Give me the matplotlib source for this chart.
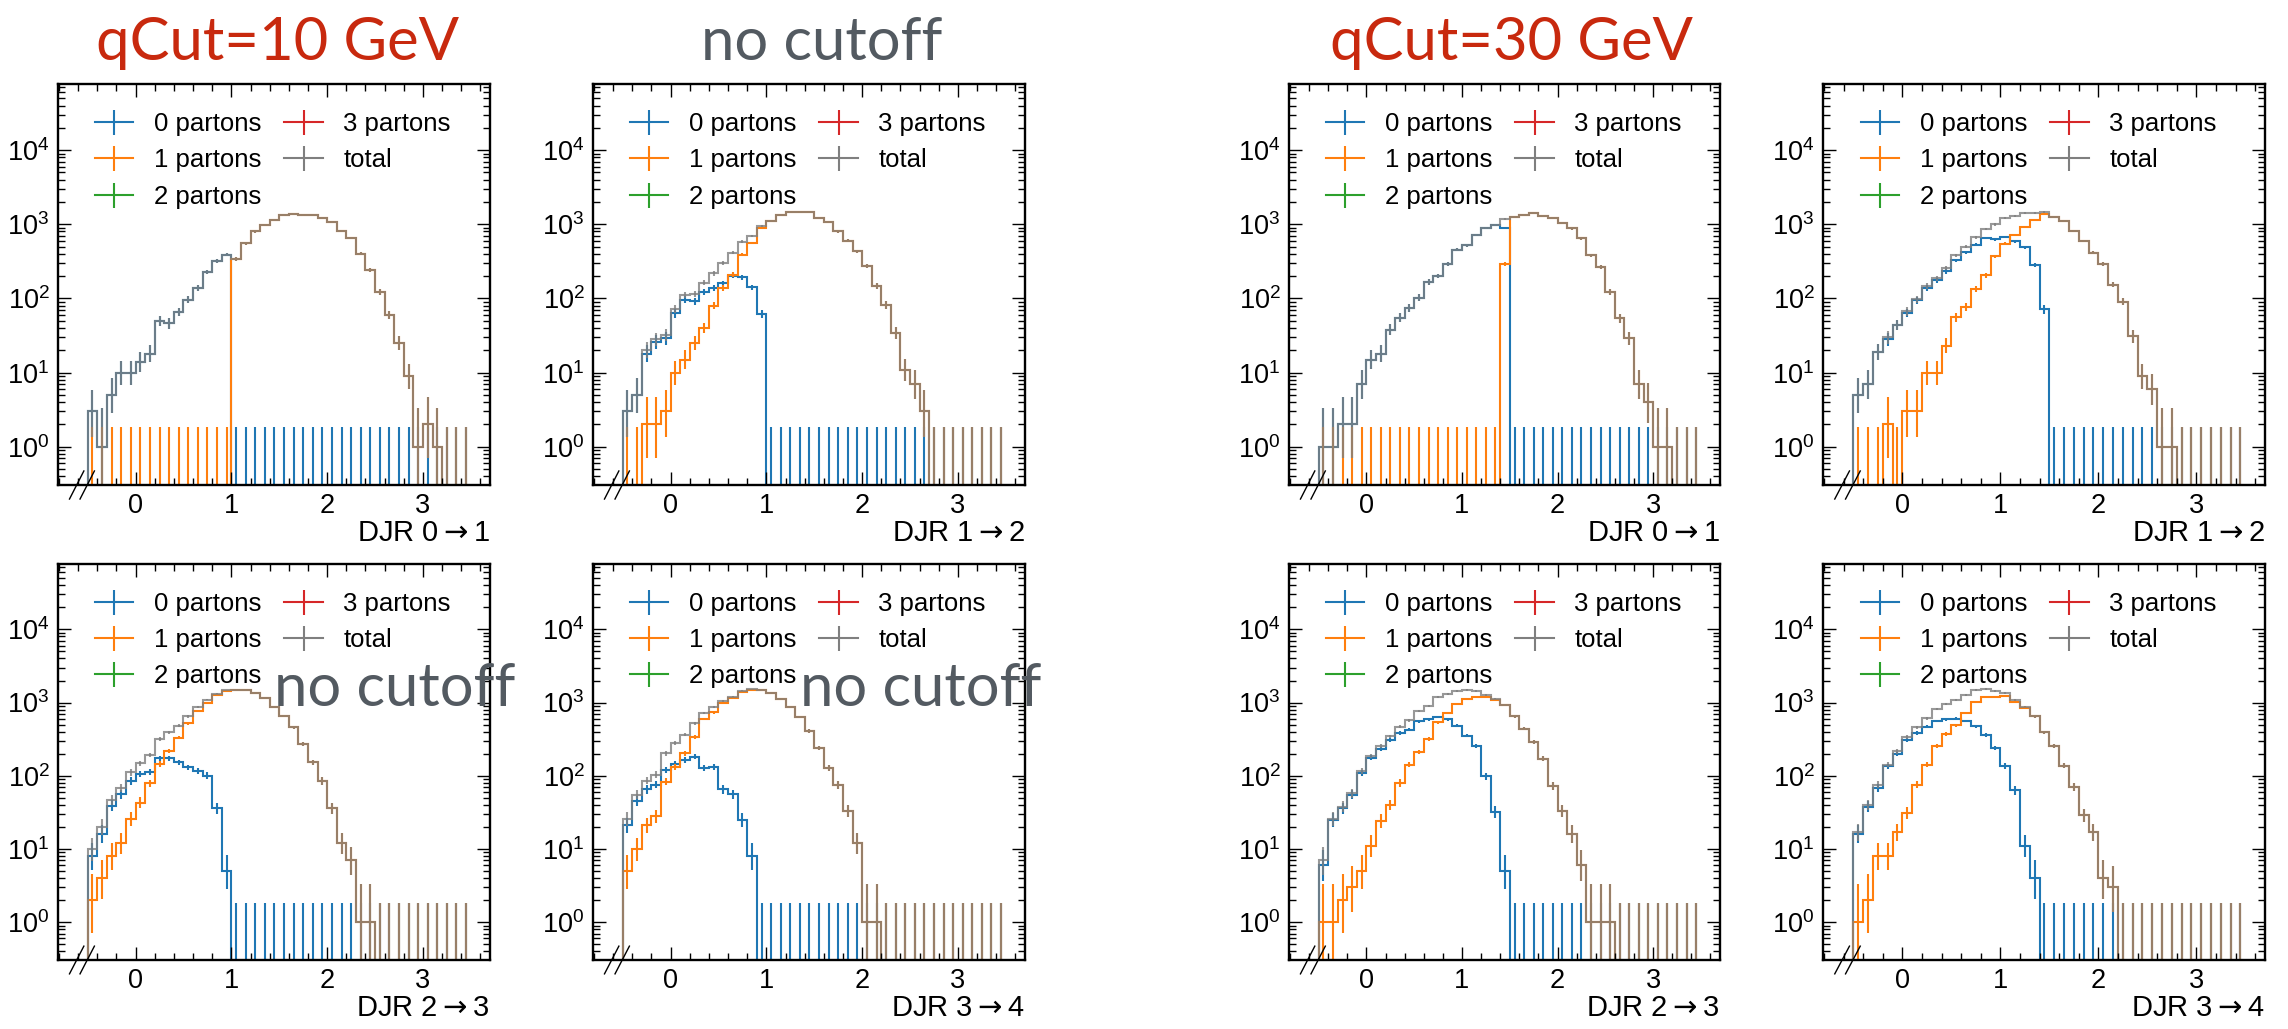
"""DJR distributions for MLM matching, split by parton multiplicity."""

import numpy as np
import matplotlib
matplotlib.use("Agg")
import matplotlib.pyplot as plt
import matplotlib.transforms as mtransforms
from matplotlib.lines import Line2D
from matplotlib.ticker import LogLocator, MultipleLocator, NullFormatter

plt.rcParams["font.family"] = ["Liberation Sans", "DejaVu Sans"]
plt.rcParams["mathtext.fontset"] = "dejavusans"

# log10(DJR) binning, 40 bins of 0.1
edges = np.round(np.linspace(-0.5, 3.5, 41), 2)

labels = ["0 partons", "1 partons", "2 partons", "3 partons", "total"]
colors = ["#1f77b4", "#ff7f0e", "#2ca02c", "#d62728", "#7f7f7f"]

# qCut = 10 GeV
q10_djr01_n0 = [3, 1, 5, 10, 10, 14, 18, 50, 46, 66, 96, 138, 226, 322, 388] + [0] * 25
q10_djr01_n1 = [0] * 15 + [343, 557, 800, 985, 1150, 1315, 1380, 1350, 1315, 1215, 1070, 815, 650, 400, 240,
                           124, 60, 25, 9, 1, 2, 1, 0, 0, 0]
q10_djr23_n0 = [8, 16, 39, 56, 85, 105, 114, 174, 174, 152, 130, 117, 100, 36, 5] + [0] * 25
q10_djr23_n1 = [2, 4, 8, 12, 26, 43, 79, 144, 218, 333, 518, 760, 1000, 1280, 1460, 1500, 1470, 1340, 1150, 880,
                660, 457, 270, 152, 85, 36, 12, 7, 1, 1] + [0] * 10

# no cutoff (qCut = 10 GeV sample)
nocut_djr12_n0 = [3, 5, 18, 26, 29, 63, 96, 91, 124, 138, 160, 203, 193, 141, 62] + [0] * 25
nocut_djr12_n1 = [0, 0, 2, 2, 3, 10, 15, 25, 40, 80, 138, 209, 390, 560, 890, 1110, 1320, 1450, 1480, 1470,
                  1210, 1060, 800, 600, 430, 270, 147, 81, 34, 11, 7, 3] + [0] * 8
nocut_djr34_n0 = [21, 45, 65, 76, 120, 144, 164, 182, 127, 133, 65, 56, 25, 8] + [0] * 26
nocut_djr34_n1 = [5, 10, 21, 28, 83, 133, 202, 338, 596, 734, 990, 1144, 1410, 1500, 1470, 1330, 1110, 873, 637,
                  410, 237, 126, 75, 33, 12, 1, 1] + [0] * 13

# qCut = 30 GeV
q30_djr01_n0 = [1, 1, 2, 2, 7, 15, 18, 38, 55, 75, 102, 167, 200, 295, 453, 524, 723, 883, 980, 883] + [0] * 20
q30_djr01_n1 = [0] * 19 + [290, 1250, 1350, 1400, 1300, 1220, 1040, 880, 645, 380, 262, 121, 54, 29, 7, 4, 1, 1,
                           0, 0, 0]
q30_djr12_n0 = [5, 7, 19, 28, 44, 64, 95, 138, 176, 232, 325, 420, 530, 650, 625, 670, 590, 490, 280, 71] + [0] * 20
q30_djr12_n1 = [0, 0, 0, 2, 0, 3, 3, 10, 10, 23, 56, 76, 135, 205, 370, 550, 720, 920, 1130, 1380, 1260, 1100,
                810, 595, 413, 288, 153, 90, 31, 9, 6, 1, 1] + [0] * 7
q30_djr23_n0 = [6, 25, 36, 55, 110, 175, 230, 305, 385, 427, 556, 588, 635, 588, 485, 354, 258, 98, 32, 5] + [0] * 20
q30_djr23_n1 = [1, 1, 2, 3, 5, 11, 24, 40, 80, 142, 210, 318, 540, 720, 960, 1120, 1180, 1180, 1100, 915, 650,
                440, 287, 170, 72, 33, 16, 6, 1, 1, 1] + [0] * 9
q30_djr34_n0 = [16, 38, 68, 134, 199, 306, 384, 468, 562, 590, 600, 560, 475, 360, 237, 135, 63, 11, 4] + [0] * 21
q30_djr34_n1 = [1, 2, 8, 8, 17, 31, 76, 142, 258, 370, 490, 720, 1005, 1180, 1193, 1215, 1027, 854, 646, 393,
                253, 138, 70, 29, 17, 4, 3] + [0] * 13

ARROW = r"$\rightarrow$"
# (row, col, xlabel, n0, n1)
panels = [
    (0, 0, f"DJR 0{ARROW}1", q10_djr01_n0, q10_djr01_n1),
    (0, 1, f"DJR 1{ARROW}2", nocut_djr12_n0, nocut_djr12_n1),
    (1, 0, f"DJR 2{ARROW}3", q10_djr23_n0, q10_djr23_n1),
    (1, 1, f"DJR 3{ARROW}4", nocut_djr34_n0, nocut_djr34_n1),
    (0, 2, f"DJR 0{ARROW}1", q30_djr01_n0, q30_djr01_n1),
    (0, 3, f"DJR 1{ARROW}2", q30_djr12_n0, q30_djr12_n1),
    (1, 2, f"DJR 2{ARROW}3", q30_djr23_n0, q30_djr23_n1),
    (1, 3, f"DJR 3{ARROW}4", q30_djr34_n0, q30_djr34_n1),
]

W, H = 2288, 1029
col_px = [(58, 490), (593, 1025), (1289, 1720), (1823, 2265)]
row_px = [(84, 485), (564, 960)]

FLOOR = 1e-3


def poisson_band(n):
    """Approximate Garwood 68% interval (Wilson-Hilferty)."""
    n = np.asarray(n, float)
    m = np.maximum(n, 1)
    lo = np.where(n > 0, n * (1 - 1 / (9 * m) - 1 / (3 * np.sqrt(m))) ** 3, FLOOR)
    hi = (n + 1) * (1 - 1 / (9 * (n + 1)) + 1 / (3 * np.sqrt(n + 1))) ** 3
    return lo, hi


def draw_hist(ax, n, color, alpha=1.0):
    n = np.asarray(n, float)
    centers = 0.5 * (edges[1:] + edges[:-1])
    ax.stairs(np.where(n > 0, n, FLOOR), edges, baseline=FLOOR, color=color, lw=1.5, alpha=alpha)
    lo, hi = poisson_band(n)
    ax.vlines(centers, lo, hi, color=color, lw=1.5, alpha=alpha)


fig = plt.figure(figsize=(W / 100, H / 100), dpi=100)

for row, col, xlabel, n0, n1 in panels:
    x0, x1 = col_px[col]
    y0, y1 = row_px[row]
    ax = fig.add_axes([x0 / W, 1 - y1 / H, (x1 - x0) / W, (y1 - y0) / H])
    total = np.asarray(n0) + np.asarray(n1)
    draw_hist(ax, n0, colors[0])
    draw_hist(ax, n1, colors[1])
    draw_hist(ax, total, colors[4], alpha=0.8)

    ax.set_yscale("log")
    ax.set_xlim(-0.81, 3.70)
    ax.set_ylim(0.305, 7.8e4)
    ax.xaxis.set_major_locator(MultipleLocator(1))
    ax.xaxis.set_minor_locator(MultipleLocator(0.2))
    ax.yaxis.set_major_locator(LogLocator(base=10, numticks=10))
    ax.yaxis.set_minor_locator(LogLocator(base=10, subs=np.arange(2, 10), numticks=20))
    ax.yaxis.set_minor_formatter(NullFormatter())
    ax.tick_params(which="both", direction="in", top=True, right=True, labelsize=19.5)
    ax.tick_params(which="major", length=9.5, width=1.0, pad=6)
    ax.tick_params(which="minor", length=5, width=1.0)
    for sp in ax.spines.values():
        sp.set_linewidth(1.7)
    ax.set_xlabel(xlabel, loc="right", fontsize=21, labelpad=0)

    # axis-break marks for the underflow
    trans = mtransforms.blended_transform_factory(ax.transData, ax.transAxes)
    for xc in (-0.615, -0.505):
        ax.plot([xc - 0.075, xc + 0.075], [-0.035, 0.035], color="k", lw=1.0,
                transform=trans, clip_on=False)

    handles = [Line2D([], [], color=c, lw=1.5, marker="|", markersize=18, mew=1.5) for c in colors]
    ax.legend(handles, labels, ncol=2, loc="upper left",
              bbox_to_anchor=(0.085, 0.93), frameon=False, fontsize=18.5, handlelength=1.5,
              handletextpad=0.8, columnspacing=0.9, labelspacing=0.48, borderaxespad=0, borderpad=0)

red = "#c8290e"
grey = "#535a61"
big = dict(fontsize=43, family=["Lato", "DejaVu Sans"], ha="center", va="baseline")
fig.text(278 / W, 1 - 60 / H, "qCut=10 GeV", color=red, **big)
fig.text(822 / W, 1 - 60 / H, "no cutoff", color=grey, **big)
fig.text(1512 / W, 1 - 60 / H, "qCut=30 GeV", color=red, **big)
fig.text(395 / W, 1 - 706 / H, "no cutoff", color=grey, **big)
fig.text(921 / W, 1 - 706 / H, "no cutoff", color=grey, **big)

fig.savefig("out.png", dpi=100)
